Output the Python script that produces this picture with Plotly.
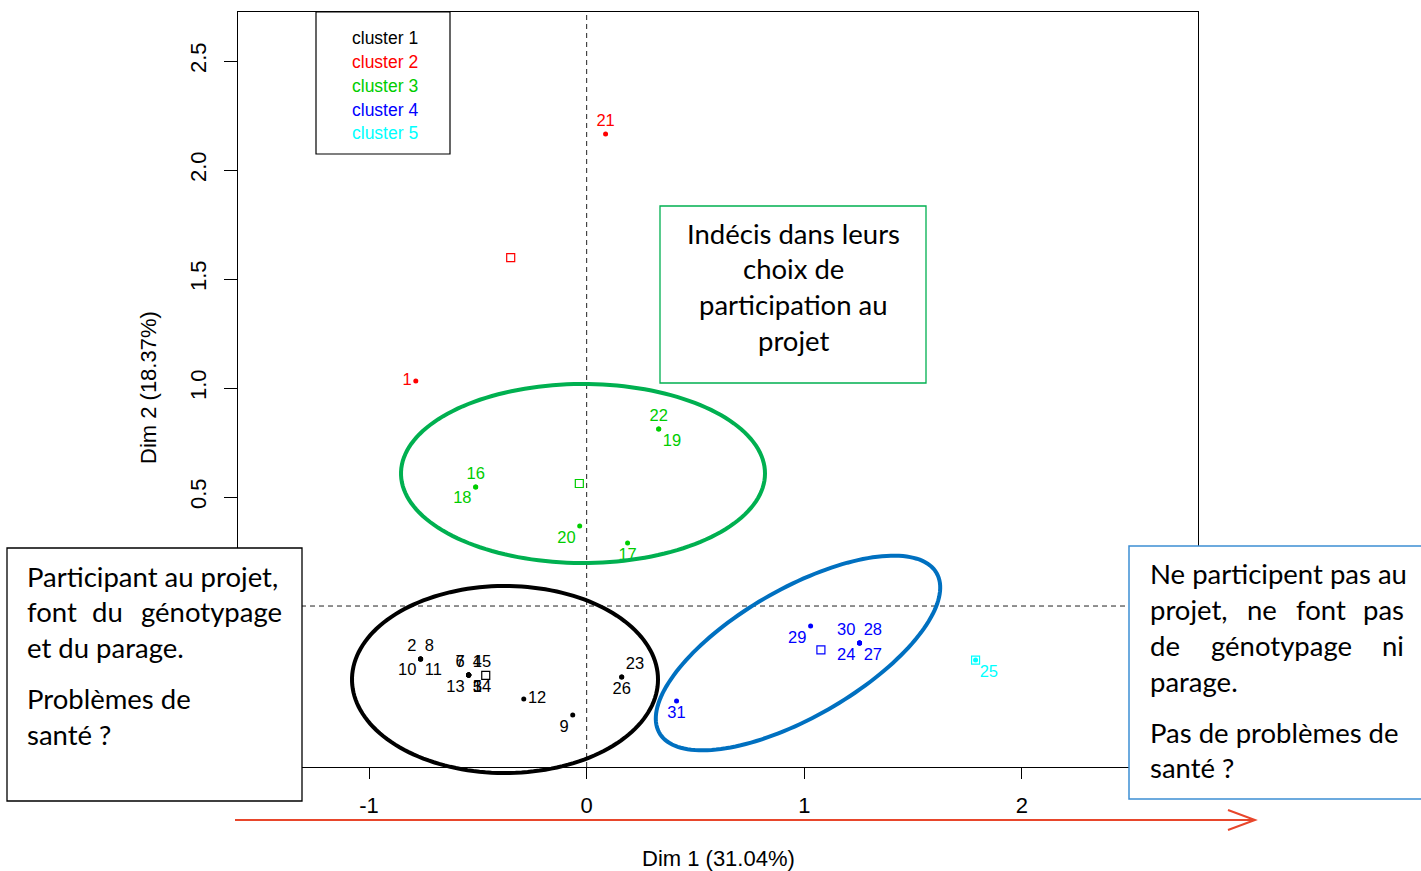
import numpy as np
import plotly.graph_objects as go

# ---------------- data ----------------
ids = [str(i) for i in range(1, 32)]
dim1 = [-0.785, -0.763, -0.542, -0.542, -0.542, -0.542, -0.542, -0.763, -0.064, -0.763,
        -0.763, -0.289, -0.542, -0.542, -0.542, -0.510, 0.188, -0.510, 0.331, -0.032,
        0.087, 0.331, 0.161, 1.254, 1.787, 0.161, 1.254, 1.254, 1.029, 1.254, 0.413]
dim2 = [1.032, -0.243, -0.317, -0.317, -0.317, -0.317, -0.317, -0.243, -0.500, -0.243,
        -0.243, -0.427, -0.317, -0.317, -0.317, 0.546, 0.289, 0.546, 0.812, 0.367,
        2.165, 0.812, -0.326, -0.170, -0.248, -0.326, -0.170, -0.170, -0.092, -0.170, -0.436]
cluster = [2, 1, 1, 1, 1, 1, 1, 1, 1, 1,
           1, 1, 1, 1, 1, 3, 3, 3, 3, 3,
           2, 3, 1, 4, 5, 1, 4, 4, 4, 4, 4]
label_pos = ["middle left", "top left", "bottom right", "top right", "bottom right", "top left",
             "top left", "top right", "bottom left", "bottom left", "bottom right", "middle right",
             "bottom left", "bottom right", "top right", "top center", "bottom center", "bottom left",
             "bottom right", "bottom left", "top center", "top center", "top right", "bottom left",
             "bottom right", "bottom center", "bottom right", "top right", "bottom left", "top left",
             "bottom center"]
cluster_names = ["cluster 1", "cluster 2", "cluster 3", "cluster 4", "cluster 5"]
cluster_colors = ["#000000", "#FF0000", "#00CD00", "#0000FF", "#00FFFF"]

xtick_vals = [-1, 0, 1, 2]
xtick_text = ["-1", "0", "1", "2"]
ytick_vals = [-0.5, 0.0, 0.5, 1.0, 1.5, 2.0, 2.5]
ytick_text = ["-0.5", "0.0", "0.5", "1.0", "1.5", "2.0", "2.5"]
xtitle = "Dim 1 (31.04%)"
ytitle = "Dim 2 (18.37%)"

box_mid = ["Indécis dans leurs", "choix de", "participation au", "projet"]

# ---------------- layout geometry (pixels) ----------------
W, H = 1421, 871
PL, PR, PT, PB = 238, 1198, 12, 767
XR = [-1.602, 2.809]
YR = [-0.7385, 2.725]


def fx(p):
    return (p - PL) / (PR - PL)


def fy(p):
    return (PB - p) / (PB - PT)


R_FONT = "Arial, Liberation Sans, sans-serif"
C_FONT = "Lato, Carlito, Calibri, sans-serif"

fig = go.Figure()

# individuals
arr_x = np.array(dim1)
arr_y = np.array(dim2)
arr_c = np.array(cluster)
for k in range(1, 6):
    idx = [i for i in range(len(ids)) if cluster[i] == k]
    col = cluster_colors[k - 1]
    fig.add_trace(go.Scatter(
        x=[dim1[i] for i in idx], y=[dim2[i] for i in idx],
        mode="markers+text",
        text=[ids[i] for i in idx],
        textposition=[label_pos[i] for i in idx],
        textfont=dict(family=R_FONT, size=16.5, color=col),
        marker=dict(symbol="circle", size=5, color=col, line=dict(width=0)),
        cliponaxis=False, showlegend=False, hoverinfo="skip"))
    # cluster centre (mean of members)
    fig.add_trace(go.Scatter(
        x=[arr_x[arr_c == k].mean()], y=[arr_y[arr_c == k].mean()],
        mode="markers",
        marker=dict(symbol="square-open", size=8, color=col, line=dict(width=1.2)),
        showlegend=False, hoverinfo="skip"))

shapes = []
# dashed reference lines
shapes.append(dict(type="line", xref="x", yref="paper", x0=0, x1=0, y0=0, y1=1,
                   line=dict(color="#222222", width=1, dash="5px,4px"), layer="below"))
shapes.append(dict(type="line", xref="paper", yref="y", x0=0, x1=1, y0=0, y1=0,
                   line=dict(color="#222222", width=1, dash="5px,4px"), layer="below"))


def ellipse_path(cx, cy, a, b, ang):
    t = np.linspace(0, 2 * np.pi, 160)
    th = np.deg2rad(ang)
    xs = cx + a * np.cos(t) * np.cos(th) - b * np.sin(t) * np.sin(th)
    ys = cy - (a * np.cos(t) * np.sin(th) + b * np.sin(t) * np.cos(th))
    pts = ["%.5f,%.5f" % (fx(x), fy(y)) for x, y in zip(xs, ys)]
    return "M " + " L ".join(pts) + " Z"


shapes.append(dict(type="path", xref="paper", yref="paper", path=ellipse_path(583, 473.5, 182, 89.5, 0),
                   line=dict(color="#00B050", width=4), layer="above"))
shapes.append(dict(type="path", xref="paper", yref="paper", path=ellipse_path(505, 679.5, 153, 93.5, 0),
                   line=dict(color="#000000", width=4), layer="above"))
shapes.append(dict(type="path", xref="paper", yref="paper", path=ellipse_path(798, 653, 160, 64, 30),
                   line=dict(color="#0070C0", width=4), layer="above"))


def rect(x0, y0, x1, y1, color, width=1.3):
    return dict(type="rect", xref="paper", yref="paper", x0=fx(x0), x1=fx(x1), y0=fy(y1), y1=fy(y0),
                line=dict(color=color, width=width), fillcolor="white", layer="above")


shapes.append(rect(316, 12, 450, 154, "#000000", 1.2))
shapes.append(rect(660, 206, 926, 383, "#00B050", 1.3))
shapes.append(rect(7, 548, 302, 801, "#000000", 1.3))
shapes.append(rect(1129, 546, 1440, 799, "#3D8ED4", 1.5))

# red arrow under the x axis
shapes.append(dict(type="line", xref="paper", yref="paper", x0=fx(235), x1=fx(1255), y0=fy(820), y1=fy(820),
                   line=dict(color="#E8462B", width=2), layer="above"))
shapes.append(dict(type="path", xref="paper", yref="paper",
                   path="M %.5f,%.5f L %.5f,%.5f L %.5f,%.5f" % (fx(1228), fy(810), fx(1255), fy(820), fx(1228), fy(830)),
                   line=dict(color="#E8462B", width=2), layer="above"))

annotations = []


def txt(text, xp, base, size, family, color="#000000", xanchor="left", k=0.36, angle=0):
    annotations.append(dict(text=text, x=fx(xp), y=fy(base - k * size), xref="paper", yref="paper",
                            xanchor=xanchor, yanchor="middle", showarrow=False, textangle=angle,
                            font=dict(family=family, size=size, color=color), borderpad=0))


# legend
leg_base = [44, 68, 92, 116, 139]
for name, col, b in zip(cluster_names, cluster_colors, leg_base):
    txt(name, 351, b, 17.5, R_FONT, col)

# axis titles
txt(xtitle, 718, 866, 22, R_FONT, xanchor="center")
annotations.append(dict(text=ytitle, x=fx(148), y=fy(388), xref="paper", yref="paper", xanchor="center",
                        yanchor="middle", showarrow=False, textangle=-90,
                        font=dict(family=R_FONT, size=22, color="#000000")))

# text boxes
CS = 27.5
KC = 0.387
for line, b in zip(box_mid, [244, 279, 315, 351]):
    txt(line, 793, b, CS, C_FONT, xanchor="center", k=KC)

# left box
txt("Participant au projet,", 26, 587, CS, C_FONT, k=KC)
txt("font", 26, 622, CS, C_FONT, k=KC)
txt("du", 107, 622, CS, C_FONT, xanchor="center", k=KC)
txt("génotypage", 283, 622, CS, C_FONT, xanchor="right", k=KC)
txt("et du parage.", 26, 658, CS, C_FONT, k=KC)
txt("Problèmes de", 26, 709, CS, C_FONT, k=KC)
txt("santé ?", 26, 745, CS, C_FONT, k=KC)

# right box
txt("Ne participent pas au", 1149, 584, CS, C_FONT, k=KC)
txt("projet,", 1149, 620, CS, C_FONT, k=KC)
txt("ne", 1262, 620, CS, C_FONT, xanchor="center", k=KC)
txt("font", 1321, 620, CS, C_FONT, xanchor="center", k=KC)
txt("pas", 1405, 620, CS, C_FONT, xanchor="right", k=KC)
txt("de", 1149, 656, CS, C_FONT, k=KC)
txt("génotypage", 1281, 656, CS, C_FONT, xanchor="center", k=KC)
txt("ni", 1405, 656, CS, C_FONT, xanchor="right", k=KC)
txt("parage.", 1149, 692, CS, C_FONT, k=KC)
txt("Pas de problèmes de", 1149, 743, CS, C_FONT, k=KC)
txt("santé ?", 1149, 778, CS, C_FONT, k=KC)

fig.update_layout(
    width=W, height=H, autosize=False,
    margin=dict(l=PL, r=W - PR, t=PT, b=H - PB, pad=0),
    paper_bgcolor="white", plot_bgcolor="white",
    showlegend=False,
    shapes=shapes, annotations=annotations,
    font=dict(family=R_FONT, color="#000000"),
    xaxis=dict(range=XR, tickvals=xtick_vals, ticktext=xtick_text, ticks="outside", ticklen=11,
               tickcolor="#000000", tickwidth=1, showline=True, linecolor="#000000", linewidth=1,
               mirror=True, showgrid=False, zeroline=False, tickfont=dict(size=22, family=R_FONT),
               ticklabelstandoff=8),
    yaxis=dict(range=YR, tickvals=ytick_vals, ticktext=ytick_text, ticks="outside", ticklen=13,
               tickcolor="#000000", tickwidth=1, showline=True, linecolor="#000000", linewidth=1,
               mirror=True, showgrid=False, zeroline=False, tickfont=dict(size=22, family=R_FONT),
               tickangle=-90, ticklabelstandoff=9),
)

fig.write_html("out.html")
